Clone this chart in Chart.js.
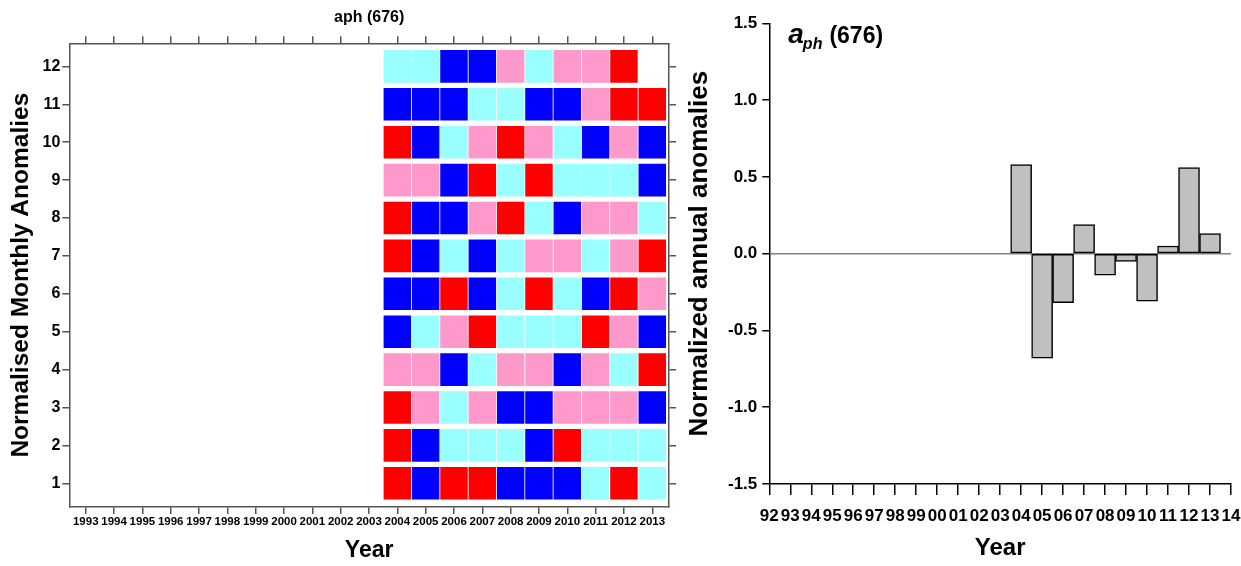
<!DOCTYPE html>
<html>
<head>
<meta charset="utf-8">
<script src="https://cdn.jsdelivr.net/npm/chart.js@4.4.0/dist/chart.umd.min.js"></script>
<style>
body { margin: 0; background: #fff; }
#wrap { position: relative; width: 1241px; height: 566px; }
canvas { position: absolute; top: 0; }
</style>
</head>
<body>
<div id="wrap">
  <canvas id="monthly" width="680" height="566" style="left:0"></canvas>
  <canvas id="annual" width="561" height="566" style="left:680px"></canvas>
</div>
<script>
// axis years for the monthly panel
const years = [1993, 1994, 1995, 1996, 1997, 1998, 1999, 2000, 2001, 2002, 2003,
               2004, 2005, 2006, 2007, 2008, 2009, 2010, 2011, 2012, 2013];
const dataYears = [2004, 2005, 2006, 2007, 2008, 2009, 2010, 2011, 2012, 2013];
const months = [1, 2, 3, 4, 5, 6, 7, 8, 9, 10, 11, 12];

// anomaly class per month (row) and year: 2 strong +, 1 weak +, -1 weak -, -2 strong -
const anomalyClass = [
  [ 2, -2,  2,  2, -2, -2, -2, -1,  2, -1],  // 1
  [ 2, -2, -1, -1, -1, -2,  2, -1, -1, -1],  // 2
  [ 2,  1, -1,  1, -2, -2,  1,  1,  1, -2],  // 3
  [ 1,  1, -2, -1,  1,  1, -2,  1, -1,  2],  // 4
  [-2, -1,  1,  2, -1, -1, -1,  2,  1, -2],  // 5
  [-2, -2,  2, -2, -1,  2, -1, -2,  2,  1],  // 6
  [ 2, -2, -1, -2, -1,  1,  1, -1,  1,  2],  // 7
  [ 2, -2, -2,  1,  2, -1, -2,  1,  1, -1],  // 8
  [ 1,  1, -2,  2, -1,  2, -1, -1, -1, -2],  // 9
  [ 2, -2, -1,  1,  2,  1, -1, -2,  1, -2],  // 10
  [-2, -2, -2, -1, -1, -2, -2,  1,  2,  2],  // 11
  [-1, -1, -2, -2,  1, -1,  1,  1,  2, null] // 12
];
const classColors = { '2': '#ff0000', '1': '#ff99cc', '-1': '#99ffff', '-2': '#0000ff' };

// annual panel
const annualLabels = ['92', '93', '94', '95', '96', '97', '98', '99', '00', '01', '02', '03',
                      '04', '05', '06', '07', '08', '09', '10', '11', '12', '13', '14'];
const annualValues = [null, null, null, null, null, null, null, null, null, null, null, null,
                      0.58, -0.68, -0.32, 0.19, -0.14, -0.05, -0.31, 0.05, 0.56, 0.13, null];

Chart.defaults.font.family = '"Liberation Sans", Arial, sans-serif';
Chart.defaults.color = '#000';

const axisGray = '#555';
const yearTicks = s => { s.ticks = years.map(v => ({ value: v })); };
const monthTicks = s => { s.ticks = months.map(v => ({ value: v })); };
const noPad = s => { s.paddingLeft = 0; s.paddingRight = 0; s.paddingTop = 0; s.paddingBottom = 0; };

// heatmap rows as floating bars, one dataset per month
const monthSets = months.map((m, mi) => {
  const pts = [], cols = [];
  dataYears.forEach((yr, i) => {
    const c = anomalyClass[mi][i];
    if (c === null) return;
    pts.push({ x: yr, y: [m - 0.43, m + 0.43] });
    cols.push(classColors[String(c)]);
  });
  return {
    data: pts,
    backgroundColor: cols,
    borderWidth: 0,
    grouped: false,
    barPercentage: 0.97,
    categoryPercentage: 1
  };
});

const xRange = { min: 1992.42, max: 2013.59 };
const yRange = { min: 0.375, max: 12.61 };

new Chart(document.getElementById('monthly'), {
  type: 'bar',
  data: { datasets: monthSets },
  options: {
    responsive: false,
    animation: false,
    events: [],
    plugins: { legend: { display: false }, tooltip: { enabled: false } },
    layout: { padding: 0 },
    scales: {
      x: {
        type: 'linear', position: 'bottom', offset: false, ...xRange,
        afterBuildTicks: yearTicks,
        ticks: { autoSkip: false, maxRotation: 0, padding: 1, font: { size: 11.5, weight: 'bold' },
                 callback: v => String(v) },
        grid: { drawOnChartArea: false, offset: false, tickLength: 7, color: axisGray, lineWidth: 1.5 },
        border: { color: axisGray, width: 1.5 },
        title: { display: true, text: 'Year', font: { size: 23, weight: 'bold' }, padding: { top: 0, bottom: 1.2 } },
        afterFit: s => { s.height = 59; noPad(s); }
      },
      x2: {
        type: 'linear', position: 'top', offset: false, ...xRange,
        afterBuildTicks: yearTicks,
        ticks: { display: false },
        grid: { drawOnChartArea: false, offset: false, tickLength: 7, color: axisGray, lineWidth: 1.5 },
        border: { color: axisGray, width: 1.5 },
        title: { display: true, text: 'aph (676)', font: { size: 16, weight: 'bold' }, padding: { top: 8.4, bottom: 0 } },
        afterFit: s => { s.height = 43.3; noPad(s); }
      },
      y: {
        type: 'linear', position: 'left', ...yRange,
        afterBuildTicks: monthTicks,
        ticks: { padding: 2, font: { size: 16, weight: 'bold' }, callback: v => String(v) },
        grid: { drawOnChartArea: false, tickLength: 7, color: axisGray, lineWidth: 1.5 },
        border: { color: axisGray, width: 1.5 },
        title: { display: true, text: 'Normalised Monthly Anomalies', font: { size: 24.5, weight: 'bold' }, padding: { top: 7, bottom: 0 } },
        afterFit: s => { s.width = 69.3; noPad(s); }
      },
      y2: {
        type: 'linear', position: 'right', ...yRange,
        afterBuildTicks: monthTicks,
        ticks: { display: false },
        grid: { drawOnChartArea: false, tickLength: 7, color: axisGray, lineWidth: 1.5 },
        border: { color: axisGray, width: 1.5 },
        afterFit: s => { s.width = 11; noPad(s); }
      }
    }
  }
});

// a_ph (676) label with subscript, top-left inside the plot
const aphLabel = {
  id: 'aphLabel',
  afterDraw(chart) {
    const ctx = chart.ctx;
    const fam = '"Liberation Sans", Arial, sans-serif';
    let x = chart.chartArea.left + 19;
    ctx.save();
    ctx.fillStyle = '#000';
    ctx.textAlign = 'left';
    ctx.textBaseline = 'alphabetic';
    ctx.font = 'italic bold 28px ' + fam;
    ctx.fillText('a', x, 42.7);
    x += ctx.measureText('a').width - 1;
    ctx.font = 'italic bold 16px ' + fam;
    ctx.fillText('ph', x, 49);
    x += ctx.measureText('ph').width + 7;
    ctx.font = 'bold 23px ' + fam;
    ctx.fillText('(676)', x, 42.7);
    ctx.restore();
  }
};

new Chart(document.getElementById('annual'), {
  type: 'bar',
  data: {
    labels: annualLabels,
    datasets: [{
      data: annualValues,
      backgroundColor: '#c0c0c0',
      borderColor: '#000',
      borderWidth: 1.5,
      borderSkipped: false,
      barPercentage: 1,
      categoryPercentage: 1
    }]
  },
  options: {
    responsive: false,
    animation: false,
    events: [],
    plugins: { legend: { display: false }, tooltip: { enabled: false } },
    layout: { padding: { top: 23.3, right: 10, left: 0, bottom: 0 } },
    scales: {
      x: {
        type: 'category', offset: false,
        ticks: { autoSkip: false, maxRotation: 0, padding: 11, font: { size: 17, weight: 'bold' } },
        grid: { drawOnChartArea: false, offset: false, tickLength: 11, color: '#000', lineWidth: 1.5 },
        border: { color: '#000', width: 1.5 },
        title: { display: true, text: 'Year', font: { size: 24, weight: 'bold' }, padding: { top: 0, bottom: 3.6 } },
        afterFit: s => { s.height = 82; noPad(s); }
      },
      y: {
        min: -1.5, max: 1.5,
        ticks: { stepSize: 0.5, padding: 5, font: { size: 17, weight: 'bold' }, callback: v => v.toFixed(1) },
        grid: {
          color: c => c.tick && c.tick.value === 0 ? '#808080' : 'rgba(0,0,0,0)',
          tickColor: '#000', tickLength: 7, lineWidth: 1.5
        },
        border: { color: '#000', width: 1.5 },
        title: { display: true, text: 'Normalized annual anomalies', font: { size: 26, weight: 'bold' }, padding: { top: 4, bottom: 0 } },
        afterFit: s => { s.width = 89.3; noPad(s); }
      }
    }
  },
  plugins: [aphLabel]
});
</script>
</body>
</html>
